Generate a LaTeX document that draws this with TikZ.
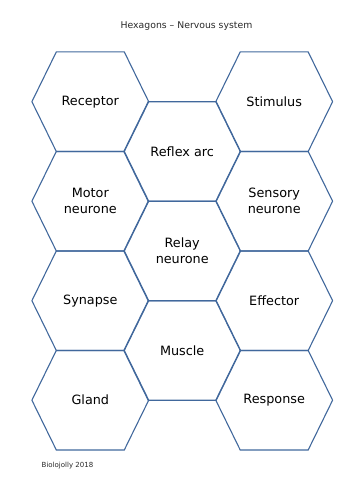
\documentclass[tikz,border=0pt]{standalone}
\usepackage{fontspec}
\setmainfont{DejaVu Sans}
\usepackage{tikz}
\usetikzlibrary{positioning,calc}
\usepackage{xcolor}
\definecolor{hexblue}{RGB}{65,104,156}
\definecolor{inkgrey}{RGB}{40,40,40}

% one hexagon cell: name, centre, label
\newcommand{\hexcell}[3]{%
  \coordinate (#1) at (#2);
  \draw[hexline] ($(#1)+(-58.4,0)$) -- ($(#1)+(-34,-49.75)$) -- ($(#1)+(34,-49.75)$)
    -- ($(#1)+(58.4,0)$) -- ($(#1)+(34,49.75)$) -- ($(#1)+(-34,49.75)$) -- cycle;
  \node[celltext] (#1-txt) at (#1) {#3};
}

\begin{document}
\begin{tikzpicture}[x=1pt,y=-1pt,
  hexline/.style={draw=hexblue,line width=1.1pt,line join=miter},
  celltext/.style={align=center,font=\fontsize{12.8}{16}\selectfont,text=black,inner sep=0pt}]
\useasboundingbox (0,0) rectangle (353,500);

\node[font=\fontsize{9.3}{11}\selectfont,text=inkgrey] (title) at (186.5,26) {Hexagons -- Nervous system};

% outer columns
\hexcell{receptor}{90.3,101.7}{Receptor}
\hexcell{stimulus}{274.2,101.7}{Stimulus}
\hexcell{motor}{90.3,201.2}{Motor\\neurone}
\hexcell{sensory}{274.2,201.2}{Sensory\\neurone}
\hexcell{synapse}{90.3,300.7}{Synapse}
\hexcell{effector}{274.2,300.7}{Effector}
\hexcell{gland}{90.3,400.2}{Gland}
\hexcell{response}{274.2,400.2}{Response}

% middle column
\hexcell{reflex}{182.2,151.5}{Reflex arc}
\hexcell{relay}{182.2,251}{Relay\\neurone}
\hexcell{muscle}{182.2,350.5}{Muscle}

\node[font=\fontsize{7}{8}\selectfont,text=inkgrey,anchor=west,inner sep=0pt] (credit) at (41.5,466) {Biolojolly 2018};
\end{tikzpicture}
\end{document}
